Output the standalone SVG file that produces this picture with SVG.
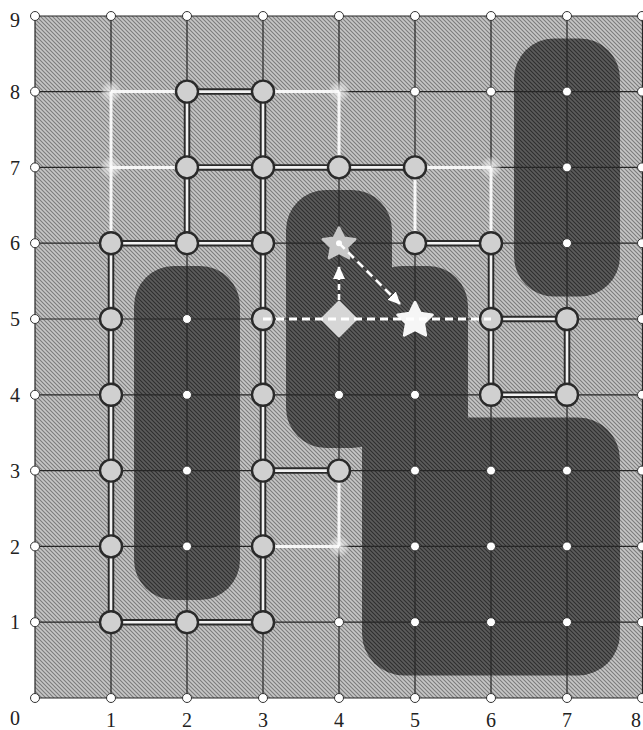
<svg xmlns="http://www.w3.org/2000/svg" width="643" height="730" viewBox="0 0 643 730">
<defs>
<pattern id="hLight" patternUnits="userSpaceOnUse" width="4" height="4">
<rect width="4" height="4" fill="#c6c6c6"/>
<path d="M-1,-1L5,5M-1,3L1,5M3,-1L5,1" stroke="#7c7c7c" stroke-width="1.1"/>
</pattern>
<pattern id="hDark" patternUnits="userSpaceOnUse" width="4" height="4">
<rect width="4" height="4" fill="#5c5c5c"/>
<path d="M-1,-1L5,5M-1,3L1,5M3,-1L5,1" stroke="#2e2e2e" stroke-width="1.1"/>
</pattern>
<radialGradient id="glow">
<stop offset="0" stop-color="#ffffff" stop-opacity="0.75"/>
<stop offset="0.6" stop-color="#f0f0f0" stop-opacity="0.45"/>
<stop offset="1" stop-color="#ffffff" stop-opacity="0"/>
</radialGradient>
<path id="star" d="M0,-17L5,-6.88L16.17,-5.25L8.08,2.63L9.99,13.75L0,8.5L-9.99,13.75L-8.08,2.63L-16.17,-5.25L-5,-6.88Z"/>
<marker id="ah" markerUnits="userSpaceOnUse" markerWidth="14" markerHeight="12" refX="12" refY="6" orient="auto">
<path d="M0,0L13,6L0,12Z" fill="#ffffff"/>
</marker>
<style>
.grid{stroke:#262626;stroke-width:1.2;fill:none}
.obs{fill:url(#hDark)}
.big{fill:#d0d0d0;stroke:#2a2a2a;stroke-width:2.4}
.small{fill:#ffffff;stroke:#333333;stroke-width:1}
.glow{fill:url(#glow)}
.dbo{stroke:#2a2a2a;stroke-width:6.5;fill:none}
.dbi{stroke:#f2f2f2;stroke-width:2.6;fill:none}
.pw{stroke:#f7f7f7;stroke-width:3;fill:none}
.lbl{font-family:"Liberation Serif","Times New Roman",serif;font-size:20px;fill:#222222;text-anchor:middle}
.dash{stroke:#ffffff;stroke-width:3;fill:none;stroke-dasharray:8 5}
</style>
</defs>

<rect x="35" y="16" width="608" height="682" fill="url(#hLight)"/>

<g id="obstacles">
<rect class="obs" x="134" y="266" width="106" height="334" rx="40"/>
<rect class="obs" x="514" y="38.5" width="106" height="258" rx="40"/>
<rect class="obs" x="286" y="190" width="106" height="258" rx="40"/>
<rect class="obs" x="362" y="266" width="106" height="250" rx="40"/>
<rect class="obs" x="362" y="417.5" width="258" height="258" rx="42"/>
</g>

<g id="grid" class="grid">
<path d="M35,16V698M111,16V698M187,16V698M263,16V698M339,16V698M415,16V698M491,16V698M567,16V698M642.5,16V698"/>
<path d="M35,16H643M35,91.6H643M35,167.4H643M35,243.2H643M35,319H643M35,394.8H643M35,470.6H643M35,546.4H643M35,622.2H643M35,698H643"/>
</g>

<g id="connectors">
<path class="dbo" d="M187,91.6H263M187,91.6V167.4M263,91.6V167.4M187,167.4H263M263,167.4H339M339,167.4H415M415,243.2H491M491,243.2V319M491,319H567M491,319V394.8M567,319V394.8M491,394.8H567M187,167.4V243.2M111,243.2H187M187,243.2H263M263,167.4V622.2M263,470.6H339M111,622.2H263M111,243.2V622.2"/>
<path class="dbi" d="M187,91.6H263M187,91.6V167.4M263,91.6V167.4M187,167.4H263M263,167.4H339M339,167.4H415M415,243.2H491M491,243.2V319M491,319H567M491,319V394.8M567,319V394.8M491,394.8H567M187,167.4V243.2M111,243.2H187M187,243.2H263M263,167.4V622.2M263,470.6H339M111,622.2H263M111,243.2V622.2"/>
<path class="pw" d="M111,91.6H187M111,91.6V243.2M111,167.4H187M263,91.6H339M339,91.6V167.4M415,167.4H491M491,167.4V243.2M415,167.4V243.2M263,546.4H339M339,546.4V470.6"/>
</g>

<g id="glows">
<circle class="glow" cx="111" cy="91.6" r="11"/>
<circle class="glow" cx="111" cy="167.4" r="11"/>
<circle class="glow" cx="339" cy="91.6" r="11"/>
<circle class="glow" cx="491" cy="167.4" r="11"/>
<circle class="glow" cx="339" cy="546.4" r="11"/>
</g>

<g id="border-points">
<circle class="small" cx="35" cy="16" r="4.5"/><circle class="small" cx="111" cy="16" r="4.5"/><circle class="small" cx="187" cy="16" r="4.5"/><circle class="small" cx="263" cy="16" r="4.5"/><circle class="small" cx="339" cy="16" r="4.5"/><circle class="small" cx="415" cy="16" r="4.5"/><circle class="small" cx="491" cy="16" r="4.5"/><circle class="small" cx="567" cy="16" r="4.5"/><circle class="small" cx="642" cy="16" r="4.5"/>
<circle class="small" cx="35" cy="698" r="4.5"/><circle class="small" cx="111" cy="698" r="4.5"/><circle class="small" cx="187" cy="698" r="4.5"/><circle class="small" cx="263" cy="698" r="4.5"/><circle class="small" cx="339" cy="698" r="4.5"/><circle class="small" cx="415" cy="698" r="4.5"/><circle class="small" cx="491" cy="698" r="4.5"/><circle class="small" cx="567" cy="698" r="4.5"/><circle class="small" cx="642" cy="698" r="4.5"/>
<circle class="small" cx="35" cy="91.6" r="4.5"/><circle class="small" cx="35" cy="167.4" r="4.5"/><circle class="small" cx="35" cy="243.2" r="4.5"/><circle class="small" cx="35" cy="319" r="4.5"/><circle class="small" cx="35" cy="394.8" r="4.5"/><circle class="small" cx="35" cy="470.6" r="4.5"/><circle class="small" cx="35" cy="546.4" r="4.5"/><circle class="small" cx="35" cy="622.2" r="4.5"/>
<circle class="small" cx="642" cy="91.6" r="4.5"/><circle class="small" cx="642" cy="167.4" r="4.5"/><circle class="small" cx="642" cy="243.2" r="4.5"/><circle class="small" cx="642" cy="319" r="4.5"/><circle class="small" cx="642" cy="394.8" r="4.5"/><circle class="small" cx="642" cy="470.6" r="4.5"/><circle class="small" cx="642" cy="546.4" r="4.5"/><circle class="small" cx="642" cy="622.2" r="4.5"/>
</g>

<g id="free-points">
<circle class="small" cx="415" cy="91.6" r="4.5"/><circle class="small" cx="491" cy="91.6" r="4.5"/><circle class="small" cx="567" cy="91.6" r="4.5"/>
<circle class="small" cx="567" cy="167.4" r="4.5"/><circle class="small" cx="567" cy="243.2" r="4.5"/>
<circle class="small" cx="187" cy="319" r="4.5"/><circle class="small" cx="187" cy="394.8" r="4.5"/><circle class="small" cx="187" cy="470.6" r="4.5"/><circle class="small" cx="187" cy="546.4" r="4.5"/>
<circle class="small" cx="339" cy="394.8" r="4.5"/><circle class="small" cx="415" cy="394.8" r="4.5"/>
<circle class="small" cx="415" cy="470.6" r="4.5"/><circle class="small" cx="491" cy="470.6" r="4.5"/><circle class="small" cx="567" cy="470.6" r="4.5"/>
<circle class="small" cx="415" cy="546.4" r="4.5"/><circle class="small" cx="491" cy="546.4" r="4.5"/><circle class="small" cx="567" cy="546.4" r="4.5"/>
<circle class="small" cx="339" cy="622.2" r="4.5"/><circle class="small" cx="415" cy="622.2" r="4.5"/><circle class="small" cx="491" cy="622.2" r="4.5"/><circle class="small" cx="567" cy="622.2" r="4.5"/>
</g>

<g id="n-2-8"><circle class="big" cx="187" cy="91.6" r="11"/></g>
<g id="n-3-8"><circle class="big" cx="263" cy="91.6" r="11"/></g>
<g id="n-2-7"><circle class="big" cx="187" cy="167.4" r="11"/></g>
<g id="n-3-7"><circle class="big" cx="263" cy="167.4" r="11"/></g>
<g id="n-4-7"><circle class="big" cx="339" cy="167.4" r="11"/></g>
<g id="n-5-7"><circle class="big" cx="415" cy="167.4" r="11"/></g>
<g id="n-1-6"><circle class="big" cx="111" cy="243.2" r="11"/></g>
<g id="n-2-6"><circle class="big" cx="187" cy="243.2" r="11"/></g>
<g id="n-3-6"><circle class="big" cx="263" cy="243.2" r="11"/></g>
<g id="n-5-6"><circle class="big" cx="415" cy="243.2" r="11"/></g>
<g id="n-6-6"><circle class="big" cx="491" cy="243.2" r="11"/></g>
<g id="n-1-5"><circle class="big" cx="111" cy="319" r="11"/></g>
<g id="n-3-5"><circle class="big" cx="263" cy="319" r="11"/></g>
<g id="n-6-5"><circle class="big" cx="491" cy="319" r="11"/></g>
<g id="n-7-5"><circle class="big" cx="567" cy="319" r="11"/></g>
<g id="n-1-4"><circle class="big" cx="111" cy="394.8" r="11"/></g>
<g id="n-3-4"><circle class="big" cx="263" cy="394.8" r="11"/></g>
<g id="n-6-4"><circle class="big" cx="491" cy="394.8" r="11"/></g>
<g id="n-7-4"><circle class="big" cx="567" cy="394.8" r="11"/></g>
<g id="n-1-3"><circle class="big" cx="111" cy="470.6" r="11"/></g>
<g id="n-3-3"><circle class="big" cx="263" cy="470.6" r="11"/></g>
<g id="n-4-3"><circle class="big" cx="339" cy="470.6" r="11"/></g>
<g id="n-1-2"><circle class="big" cx="111" cy="546.4" r="11"/></g>
<g id="n-3-2"><circle class="big" cx="263" cy="546.4" r="11"/></g>
<g id="n-1-1"><circle class="big" cx="111" cy="622.2" r="11"/></g>
<g id="n-2-1"><circle class="big" cx="187" cy="622.2" r="11"/></g>
<g id="n-3-1"><circle class="big" cx="263" cy="622.2" r="11"/></g>

<g id="n-diamond"><path d="M339,301.5L356.5,319L339,336.5L321.5,319Z" fill="#d6d6d6" stroke="#d6d6d6" stroke-width="2" stroke-linejoin="round"/></g>
<g id="n-star-4-6"><use href="#star" transform="translate(339,244.5)" fill="#c8c8c8" stroke="#c8c8c8" stroke-width="2.5" stroke-linejoin="round"/></g>
<g id="n-star-5-5"><use href="#star" transform="translate(415,320.5) scale(1.08)" fill="#f6f6f6" stroke="#f6f6f6" stroke-width="2.5" stroke-linejoin="round"/></g>

<g id="dashed-connectors">
<path class="dash" d="M263,319H491"/>
<path d="M339,300V267" stroke="#ffffff" stroke-width="2.6" fill="none" stroke-dasharray="6 4" marker-end="url(#ah)"/>
<path d="M339,243.2L400,304" stroke="#ffffff" stroke-width="2.6" fill="none" stroke-dasharray="8 5" marker-end="url(#ah)"/>
<circle cx="339" cy="243.2" r="3" fill="#ffffff"/>
</g>

<g id="labels">
<text class="lbl" x="15" y="27">9</text>
<text class="lbl" x="15" y="99">8</text>
<text class="lbl" x="15" y="175">7</text>
<text class="lbl" x="15" y="250">6</text>
<text class="lbl" x="15" y="326">5</text>
<text class="lbl" x="15" y="402">4</text>
<text class="lbl" x="15" y="478">3</text>
<text class="lbl" x="15" y="554">2</text>
<text class="lbl" x="15" y="629">1</text>
<text class="lbl" x="15" y="725">0</text>
<text class="lbl" x="111" y="727">1</text>
<text class="lbl" x="187" y="727">2</text>
<text class="lbl" x="263" y="727">3</text>
<text class="lbl" x="339" y="727">4</text>
<text class="lbl" x="415" y="727">5</text>
<text class="lbl" x="491" y="727">6</text>
<text class="lbl" x="567" y="727">7</text>
<text class="lbl" x="636" y="727">8</text>
</g>
</svg>
